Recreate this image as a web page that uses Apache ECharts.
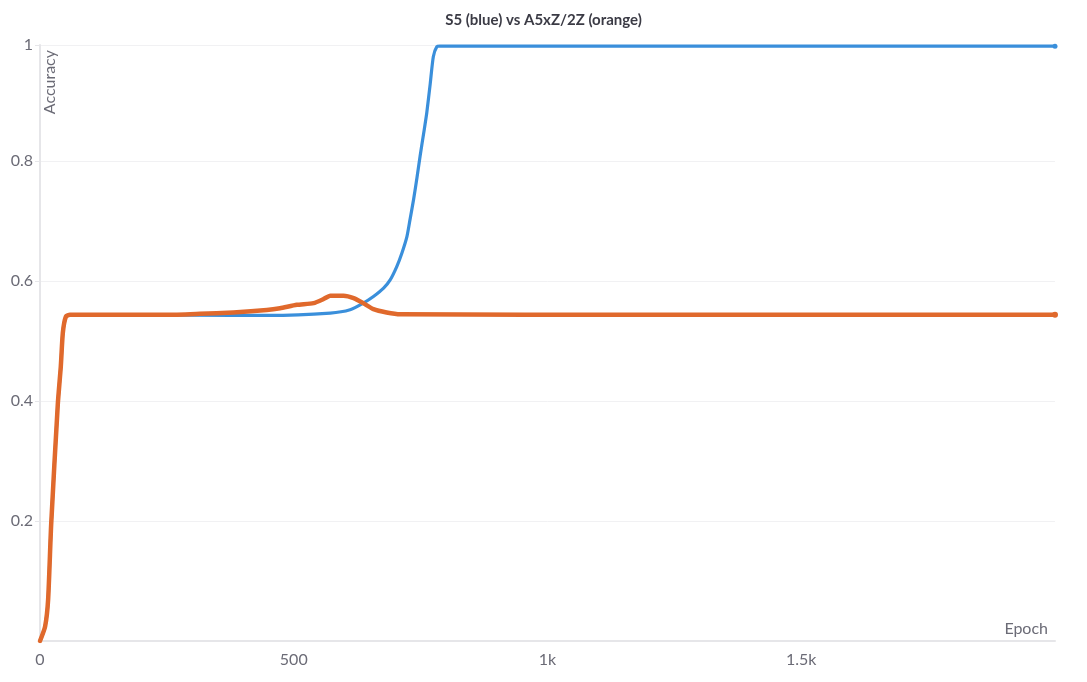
<!DOCTYPE html>
<html>
<head>
<meta charset="utf-8">
<script src="https://cdn.jsdelivr.net/npm/echarts@6/dist/echarts.min.js"></script>
<style>
html,body{margin:0;padding:0;background:#fff;}
#chart{width:1087px;height:682px;}
</style>
</head>
<body>
<div id="chart"></div>
<script>
// ---- data ----
const titleText = 'S5 (blue) vs A5xZ/2Z (orange)';
const xName = 'Epoch';
const yName = 'Accuracy';

const s5Epochs = [0, 10, 16, 22, 35, 41, 45, 51, 59, 150, 300, 450, 572, 611, 637, 657, 677, 690, 703, 713, 723, 729, 736, 743, 749, 756, 762, 769, 775, 782, 788, 1200, 2000];
const s5Values = [0.006, 0.03, 0.075, 0.2, 0.4, 0.464, 0.52, 0.547, 0.55, 0.55, 0.5495, 0.549, 0.5528, 0.5583, 0.5695, 0.5805, 0.5945, 0.6083, 0.6305, 0.6528, 0.6805, 0.7083, 0.7417, 0.78, 0.815, 0.8528, 0.8861, 0.9361, 0.9805, 0.9972, 0.998, 0.998, 0.998];

const a5Epochs = [0, 10, 16, 22, 35, 41, 45, 51, 59, 250, 315, 381, 447, 473, 506, 539, 558, 572, 598, 618, 637, 657, 683, 710, 1200, 2000];
const a5Values = [0.006, 0.03, 0.075, 0.2, 0.4, 0.464, 0.52, 0.547, 0.55, 0.55, 0.5517, 0.554, 0.558, 0.561, 0.5667, 0.5695, 0.576, 0.582, 0.582, 0.578, 0.5695, 0.5595, 0.554, 0.551, 0.55, 0.55];

const xTicks = [0, 500, 1000, 1500, 2000];
const yTicks = [0.2, 0.4, 0.6, 0.8, 1];

function pairs(xs, ys) { return xs.map((x, i) => [x, ys[i]]); }

const FONT = 'Source Sans Pro, Lato, "Noto Sans", sans-serif';
const chart = echarts.init(document.getElementById('chart'), null, { renderer: 'canvas' });

function lastDotSize(n, size) {
  return function (val, params) { return params.dataIndex === n - 1 ? size : 0; };
}

chart.setOption({
  backgroundColor: '#ffffff',
  animation: false,
  title: {
    text: titleText,
    left: 'center',
    top: 8,
    textStyle: { fontFamily: FONT, fontSize: 15, fontWeight: 'bold', color: '#3b3b45' }
  },
  grid: { left: 40, right: 32, top: 45, bottom: 41 },
  xAxis: {
    type: 'value',
    min: xTicks[0],
    max: xTicks[xTicks.length - 1],
    interval: 500,
    axisLine: { show: true, lineStyle: { color: '#e6e6e9', width: 2 } },
    axisTick: { show: false },
    splitLine: { show: false },
    axisLabel: {
      showMaxLabel: false,
      margin: 11,
      fontFamily: FONT, fontSize: 16, color: '#6b6b76',
      formatter: v => v >= 1000 ? (v / 1000) + 'k' : String(v)
    }
  },
  yAxis: {
    type: 'value',
    min: 0.006,
    max: yTicks[yTicks.length - 1],
    interval: 0.2,
    axisLine: { show: true, lineStyle: { color: '#e6e6e9', width: 2 } },
    axisTick: { show: true, length: 5, lineStyle: { color: '#e6e6e9' } },
    splitLine: { show: true, lineStyle: { color: '#f1f1f3', width: 1 } },
    axisLabel: {
      showMinLabel: false,
      margin: 7,
      fontFamily: FONT, fontSize: 16, color: '#6b6b76',
      formatter: v => String(Math.round(v * 10) / 10)
    }
  },
  graphic: [
    {
      type: 'text', x: 50, y: 50, rotation: Math.PI / 2,
      style: { text: yName, fontFamily: FONT, fontSize: 16, fill: '#6b6b76', align: 'right', verticalAlign: 'middle' }
    },
    {
      type: 'text', x: 1048, y: 629,
      style: { text: xName, fontFamily: FONT, fontSize: 16, fill: '#6b6b76', align: 'right', verticalAlign: 'middle' }
    }
  ],
  series: [
    {
      name: 'S5',
      type: 'line',
      data: pairs(s5Epochs, s5Values),
      smooth: 0.2,
      symbol: 'circle',
      showSymbol: true,
      showAllSymbol: true,
      symbolSize: lastDotSize(s5Epochs.length, 5),
      itemStyle: { color: '#3a8fdb' },
      lineStyle: { color: '#3a8fdb', width: 3.2, cap: 'round', join: 'round' },
      z: 2
    },
    {
      name: 'A5xZ/2Z',
      type: 'line',
      data: pairs(a5Epochs, a5Values),
      smooth: 0.2,
      symbol: 'circle',
      showSymbol: true,
      showAllSymbol: true,
      symbolSize: lastDotSize(a5Epochs.length, 6),
      itemStyle: { color: '#e0692c' },
      lineStyle: { color: '#e0692c', width: 4.5, cap: 'round', join: 'round' },
      z: 3
    }
  ]
});
</script>
</body>
</html>
